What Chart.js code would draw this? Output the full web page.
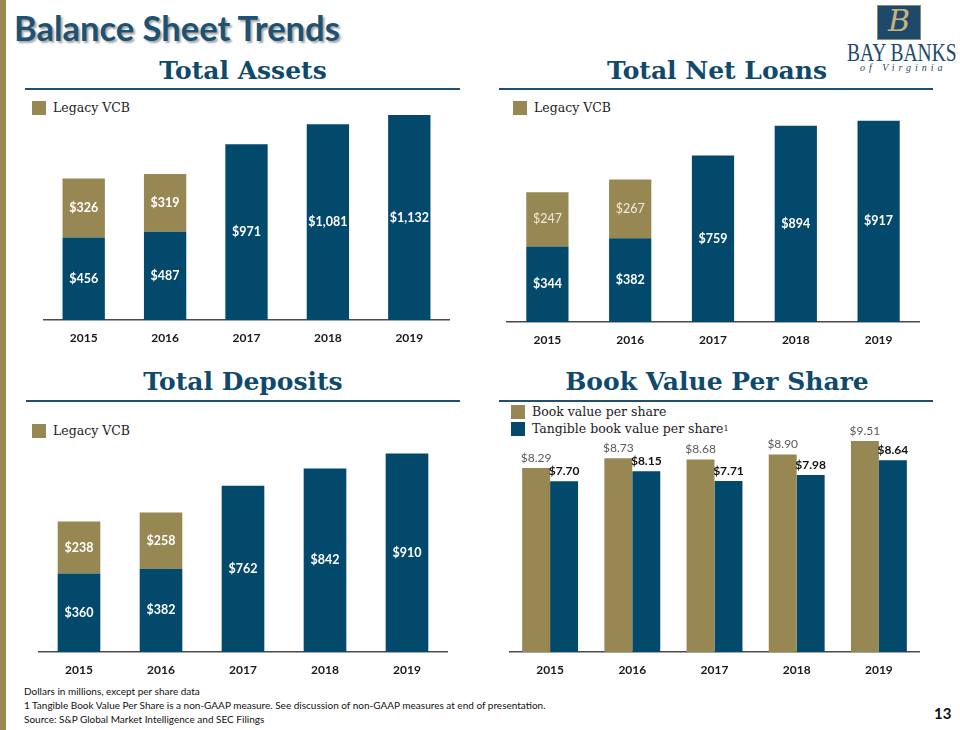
<!DOCTYPE html>
<html>
<head>
<meta charset="utf-8">
<script src="https://cdn.jsdelivr.net/npm/chart.js@4.4.1/dist/chart.umd.min.js"></script>
<style>
  body { margin: 0; width: 960px; height: 730px; background: #fff; position: relative; overflow: hidden; font-family: Lato, sans-serif; }
  .abs { position: absolute; }
  .sidebar { left: 0; top: 0; width: 6px; height: 730px; background: #9a8952; }
  .main-title { left: 14px; top: 7px; font: bold 34.5px Lato, sans-serif; color: #1d5273; text-shadow: 2px 2px 2px rgba(0,0,0,0.35); white-space: nowrap; }
  .panel-title { font: bold 25px "DejaVu Serif", serif; color: #0f4a6d; text-align: center; white-space: nowrap; }
  .rule { height: 2px; background: #1f4f72; }
  .legend { font: 12.5px "DejaVu Serif", serif; color: #222; white-space: nowrap; display: flex; align-items: center; }
  .legend i { display: inline-block; width: 14px; height: 14px; margin-right: 7px; }
  .foot { left: 24px; font: 10px Lato, sans-serif; color: #111; white-space: nowrap; }
  canvas { position: absolute; }
</style>
</head>
<body>
<div class="abs sidebar"></div>
<div class="abs main-title">Balance Sheet Trends</div>

<!-- logo -->
<div class="abs" style="left:877px;top:5px;width:44px;height:35px;background:#1d4a6b;border:1px solid #8d8a6e;box-sizing:border-box;"></div>
<div class="abs" style="left:888px;top:3px;font:italic 30px 'DejaVu Serif',serif;color:#c9b478;">B</div>
<div class="abs" style="left:847px;top:38px;width:150px;font:26px 'Liberation Serif',serif;color:#1d4a6b;transform:scaleX(0.75);transform-origin:left top;white-space:nowrap;">BAY BANKS</div>
<div class="abs" style="left:860px;top:62px;font:italic 10px 'Liberation Serif',serif;color:#1d4a6b;letter-spacing:4px;white-space:nowrap;">of Virginia</div>

<!-- panel titles -->
<div class="abs panel-title" style="left:43px;width:400px;top:56px;">Total Assets</div>
<div class="abs rule" style="left:25px;width:435px;top:88px;"></div>
<div class="abs panel-title" style="left:517px;width:400px;top:56px;">Total Net Loans</div>
<div class="abs rule" style="left:499px;width:434px;top:88px;"></div>
<div class="abs panel-title" style="left:43px;width:400px;top:367px;">Total Deposits</div>
<div class="abs rule" style="left:26px;width:434px;top:400px;"></div>
<div class="abs panel-title" style="left:517px;width:400px;top:367px;">Book Value Per Share</div>
<div class="abs rule" style="left:499px;width:434px;top:400px;"></div>

<!-- legends -->
<div class="abs legend" style="left:32px;top:100px;"><i style="background:#978752"></i>Legacy VCB</div>
<div class="abs legend" style="left:513px;top:100px;"><i style="background:#978752"></i>Legacy VCB</div>
<div class="abs legend" style="left:32px;top:423px;"><i style="background:#978752"></i>Legacy VCB</div>
<div class="abs legend" style="left:511px;top:404px;"><i style="background:#978752"></i>Book value per share</div>
<div class="abs legend" style="left:511px;top:421px;"><i style="background:#02496b"></i>Tangible book value per share<sup style="font-size:8px;">1</sup></div>

<canvas id="assets" style="left:43px;top:110px;" width="407" height="240"></canvas>
<canvas id="loans" style="left:506px;top:112px;" width="414" height="240"></canvas>
<canvas id="deposits" style="left:38px;top:442px;" width="410" height="240"></canvas>
<canvas id="bvps" style="left:509px;top:415px;" width="411" height="267"></canvas>

<div class="abs foot" style="top:685px;">Dollars in millions, except per share data</div>
<div class="abs foot" style="top:699px;">1 Tangible Book Value Per Share is a non-GAAP measure. See discussion of non-GAAP measures at end of presentation.</div>
<div class="abs foot" style="top:713px;">Source: S&amp;P Global Market Intelligence and SEC Filings</div>
<div class="abs" style="left:934px;top:704px;font:bold 15px Lato,sans-serif;color:#111;">13</div>

<script>
const years = ["2015", "2016", "2017", "2018", "2019"]

const assetsBay = [456, 487, 971, 1081, 1132]
const assetsLegacy = [326, 319, null, null, null]
const loansBay = [344, 382, 759, 894, 917]
const loansLegacy = [247, 267, null, null, null]
const depositsBay = [360, 382, 762, 842, 910]
const depositsLegacy = [238, 258, null, null, null]
const bookValue = [8.29, 8.73, 8.68, 8.90, 9.51]
const tangibleBookValue = [7.70, 8.15, 7.71, 7.98, 8.64]

const BLUE = "#02496b"
const GOLD = "#978752"

// draws the $ labels, centred inside a segment or sitting on top of the bar
const valueLabels = {
  id: "valueLabels",
  afterDatasetsDraw(chart) {
    const ctx = chart.ctx
    chart.data.datasets.forEach((ds, i) => {
      const meta = chart.getDatasetMeta(i)
      meta.data.forEach((bar, j) => {
        const v = ds.data[j]
        if (v == null) return
        const text = ds.perShare ? `$${v.toFixed(2)}` : `$${v.toLocaleString("en-US")}`
        ctx.save()
        ctx.font = ds.labelFont
        ctx.fillStyle = ds.labelColor
        ctx.textAlign = "center"
        if (ds.labelPos === "top") {
          ctx.textBaseline = "bottom"
          ctx.fillText(text, bar.x, bar.y - 4)
        } else {
          ctx.textBaseline = "middle"
          ctx.fillText(text, bar.x, (bar.y + bar.base) / 2)
        }
        ctx.restore()
      })
    })
  }
}

function axes(max, stacked) {
  return {
    x: {
      stacked: stacked,
      grid: { display: false },
      border: { display: true, color: "#4a4a4a", width: 1.5 },
      ticks: { color: "#1a1a1a", padding: 3, font: { family: "Lato", weight: "bold", size: 12 } },
      afterFit: (scale) => { scale.height = 30 }
    },
    y: { stacked: stacked, display: false, min: 0, max: max }
  }
}

function stackedChart(id, bay, legacy, max, barPct, legacyColor, legacyFont) {
  new Chart(document.getElementById(id), {
    type: "bar",
    data: {
      labels: years,
      datasets: [
        {
          label: "Bay Banks",
          data: bay,
          backgroundColor: BLUE,
          barPercentage: barPct,
          categoryPercentage: 1,
          labelFont: "bold 12.5px Lato",
          labelColor: "#ffffff"
        },
        {
          label: "Legacy VCB",
          data: legacy,
          backgroundColor: GOLD,
          barPercentage: barPct,
          categoryPercentage: 1,
          labelFont: legacyFont,
          labelColor: legacyColor
        }
      ]
    },
    options: {
      responsive: false,
      animation: false,
      layout: { padding: 0 },
      plugins: { legend: { display: false }, tooltip: { enabled: false } },
      scales: axes(max, true)
    },
    plugins: [valueLabels]
  })
}

stackedChart("assets", assetsBay, assetsLegacy, 1160, 0.52, "#ffffff", "bold 12.5px Lato")
stackedChart("loans", loansBay, loansLegacy, 957, 0.51, "#f1ecdc", "12.5px Lato")
stackedChart("deposits", depositsBay, depositsLegacy, 963, 0.52, "#ffffff", "bold 12.5px Lato")

new Chart(document.getElementById("bvps"), {
  type: "bar",
  data: {
    labels: years,
    datasets: [
      {
        label: "Book value per share",
        data: bookValue,
        backgroundColor: GOLD,
        barPercentage: 1,
        categoryPercentage: 0.68,
        perShare: true,
        labelPos: "top",
        labelFont: "12px Lato",
        labelColor: "#5a5a5a"
      },
      {
        label: "Tangible book value per share",
        data: tangibleBookValue,
        backgroundColor: BLUE,
        barPercentage: 1,
        categoryPercentage: 0.68,
        perShare: true,
        labelPos: "top",
        labelFont: "bold 12px Lato",
        labelColor: "#111111"
      }
    ]
  },
  options: {
    responsive: false,
    animation: false,
    layout: { padding: 0 },
    plugins: { legend: { display: false }, tooltip: { enabled: false } },
    scales: axes(237 / 22.19, false)
  },
  plugins: [valueLabels]
})
</script>
</body>
</html>
